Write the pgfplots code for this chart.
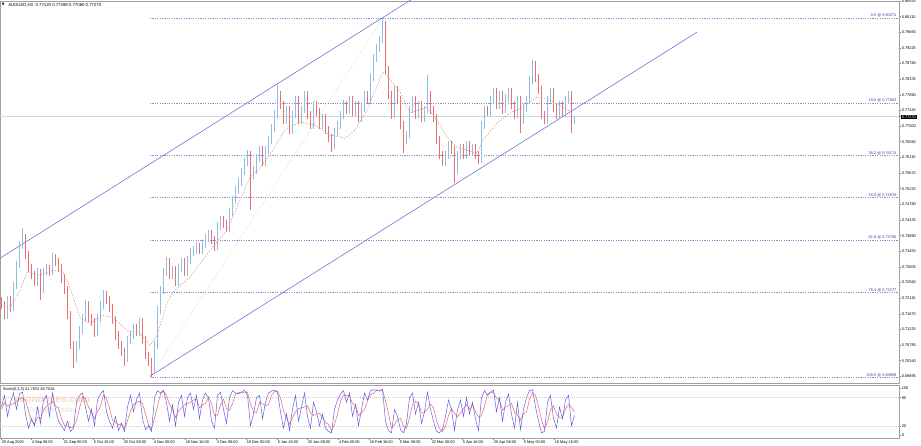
\documentclass[border=0pt]{standalone}
\usepackage{fontspec}
\setmainfont{Liberation Sans}
\newfontfamily\dejavu{DejaVu Sans}
\usepackage{pgfplots}
\pgfplotsset{compat=1.18}
\usepackage{pgfplotstable}
\definecolor{chan}{RGB}{115,115,210}
\definecolor{fibc}{RGB}{140,140,212}
\definecolor{fibt}{RGB}{60,60,165}
\definecolor{mac}{RGB}{205,140,125}
\definecolor{stm}{RGB}{95,95,230}
\definecolor{sts}{RGB}{235,95,105}
\definecolor{frame}{RGB}{160,160,160}
\definecolor{curp}{RGB}{200,214,230}
\definecolor{wmor}{RGB}{248,205,165}
\pgfplotsset{colormap={candle}{rgb255=(238,110,110) rgb255=(145,188,228)}}

\pgfplotstableread{
x o h l c
1.5 0.7206 0.7216 0.7180 0.7192
4.5 0.7192 0.7204 0.7151 0.7163
7.5 0.7163 0.7217 0.7153 0.7206
10.5 0.7206 0.7219 0.7172 0.7183
13.5 0.7183 0.7258 0.7175 0.7248
16.5 0.7248 0.7318 0.7238 0.7305
19.5 0.7305 0.7374 0.7296 0.7362
22.5 0.7362 0.7410 0.7350 0.7382
25.5 0.7382 0.7393 0.7322 0.7334
28.5 0.7334 0.7345 0.7287 0.7297
31.5 0.7297 0.7308 0.7266 0.7277
34.5 0.7277 0.7289 0.7247 0.7257
37.5 0.7257 0.7296 0.7245 0.7285
40.5 0.7285 0.7294 0.7206 0.7234
43.5 0.7234 0.7297 0.7225 0.7285
46.5 0.7285 0.7309 0.7276 0.7297
49.5 0.7297 0.7307 0.7274 0.7285
52.5 0.7285 0.7340 0.7276 0.7325
55.5 0.7325 0.7336 0.7303 0.7314
58.5 0.7314 0.7325 0.7286 0.7297
61.5 0.7297 0.7308 0.7256 0.7268
64.5 0.7268 0.7279 0.7222 0.7234
67.5 0.7234 0.7245 0.7151 0.7163
70.5 0.7163 0.7174 0.7066 0.7078
73.5 0.7078 0.7089 0.7012 0.7041
76.5 0.7041 0.7090 0.7030 0.7078
79.5 0.7078 0.7132 0.7068 0.7120
82.5 0.7120 0.7166 0.7110 0.7155
85.5 0.7155 0.7205 0.7144 0.7192
88.5 0.7192 0.7203 0.7143 0.7155
91.5 0.7155 0.7166 0.7132 0.7143
94.5 0.7143 0.7154 0.7102 0.7115
97.5 0.7115 0.7167 0.7105 0.7155
100.5 0.7155 0.7203 0.7144 0.7192
103.5 0.7192 0.7234 0.7182 0.7220
106.5 0.7220 0.7231 0.7195 0.7206
109.5 0.7206 0.7217 0.7172 0.7183
112.5 0.7183 0.7195 0.7138 0.7149
115.5 0.7149 0.7160 0.7094 0.7106
118.5 0.7106 0.7117 0.7067 0.7078
121.5 0.7078 0.7089 0.7046 0.7058
124.5 0.7058 0.7069 0.7018 0.7041
127.5 0.7041 0.7104 0.7030 0.7092
130.5 0.7092 0.7118 0.7082 0.7106
133.5 0.7106 0.7137 0.7095 0.7126
136.5 0.7126 0.7138 0.7104 0.7115
139.5 0.7115 0.7156 0.7105 0.7143
142.5 0.7143 0.7154 0.7080 0.7092
145.5 0.7092 0.7103 0.7038 0.7049
148.5 0.7049 0.7060 0.7018 0.7030
151.5 0.7030 0.7041 0.6987 0.7012
154.5 0.7012 0.7090 0.7002 0.7078
157.5 0.7078 0.7189 0.7068 0.7177
160.5 0.7177 0.7246 0.7166 0.7234
163.5 0.7234 0.7297 0.7224 0.7285
166.5 0.7285 0.7328 0.7275 0.7314
169.5 0.7314 0.7325 0.7266 0.7277
172.5 0.7277 0.7302 0.7267 0.7291
175.5 0.7291 0.7303 0.7246 0.7257
178.5 0.7257 0.7309 0.7247 0.7297
181.5 0.7297 0.7326 0.7286 0.7314
184.5 0.7314 0.7325 0.7274 0.7285
187.5 0.7285 0.7331 0.7275 0.7319
190.5 0.7319 0.7353 0.7308 0.7342
193.5 0.7342 0.7360 0.7331 0.7348
196.5 0.7348 0.7371 0.7338 0.7359
199.5 0.7359 0.7369 0.7337 0.7348
202.5 0.7348 0.7377 0.7337 0.7365
205.5 0.7365 0.7394 0.7354 0.7382
208.5 0.7382 0.7405 0.7372 0.7393
211.5 0.7393 0.7404 0.7365 0.7376
214.5 0.7376 0.7387 0.7345 0.7359
217.5 0.7359 0.7428 0.7349 0.7416
220.5 0.7416 0.7446 0.7405 0.7433
223.5 0.7433 0.7444 0.7410 0.7422
226.5 0.7422 0.7433 0.7399 0.7410
229.5 0.7410 0.7468 0.7400 0.7456
232.5 0.7456 0.7502 0.7446 0.7490
235.5 0.7490 0.7530 0.7479 0.7518
238.5 0.7518 0.7553 0.7508 0.7541
241.5 0.7541 0.7582 0.7531 0.7570
244.5 0.7570 0.7610 0.7560 0.7598
247.5 0.7598 0.7632 0.7588 0.7618
250.5 0.7618 0.7629 0.7462 0.7561
253.5 0.7561 0.7587 0.7550 0.7575
256.5 0.7575 0.7621 0.7565 0.7609
259.5 0.7609 0.7645 0.7598 0.7632
262.5 0.7632 0.7643 0.7587 0.7598
265.5 0.7598 0.7644 0.7588 0.7632
268.5 0.7632 0.7672 0.7622 0.7660
271.5 0.7660 0.7707 0.7650 0.7695
274.5 0.7695 0.7745 0.7684 0.7732
277.5 0.7732 0.7817 0.7722 0.7788
280.5 0.7788 0.7800 0.7748 0.7760
283.5 0.7760 0.7771 0.7705 0.7717
286.5 0.7717 0.7758 0.7706 0.7746
289.5 0.7746 0.7757 0.7677 0.7689
292.5 0.7689 0.7744 0.7679 0.7732
295.5 0.7732 0.7787 0.7722 0.7774
298.5 0.7774 0.7785 0.7705 0.7717
301.5 0.7717 0.7758 0.7706 0.7746
304.5 0.7746 0.7800 0.7736 0.7788
307.5 0.7788 0.7799 0.7720 0.7732
310.5 0.7732 0.7743 0.7691 0.7703
313.5 0.7703 0.7772 0.7693 0.7760
316.5 0.7760 0.7771 0.7729 0.7740
319.5 0.7740 0.7751 0.7691 0.7703
322.5 0.7703 0.7735 0.7693 0.7723
325.5 0.7723 0.7734 0.7677 0.7689
328.5 0.7689 0.7700 0.7655 0.7666
331.5 0.7666 0.7677 0.7626 0.7646
334.5 0.7646 0.7695 0.7636 0.7683
337.5 0.7683 0.7715 0.7672 0.7703
340.5 0.7703 0.7744 0.7693 0.7732
343.5 0.7732 0.7773 0.7721 0.7760
346.5 0.7760 0.7771 0.7735 0.7746
349.5 0.7746 0.7786 0.7736 0.7774
352.5 0.7774 0.7785 0.7728 0.7740
355.5 0.7740 0.7772 0.7730 0.7760
358.5 0.7760 0.7771 0.7711 0.7723
361.5 0.7723 0.7763 0.7713 0.7751
364.5 0.7751 0.7800 0.7741 0.7788
367.5 0.7788 0.7799 0.7763 0.7774
370.5 0.7774 0.7849 0.7764 0.7837
373.5 0.7837 0.7906 0.7827 0.7894
376.5 0.7894 0.7934 0.7883 0.7922
379.5 0.7922 0.7957 0.7911 0.7945
382.5 0.7945 0.8007 0.7935 0.7987
385.5 0.7987 0.7998 0.7847 0.7859
388.5 0.7859 0.7870 0.7776 0.7788
391.5 0.7788 0.7799 0.7720 0.7732
394.5 0.7732 0.7815 0.7722 0.7803
397.5 0.7803 0.7814 0.7763 0.7774
400.5 0.7774 0.7785 0.7691 0.7703
403.5 0.7703 0.7714 0.7623 0.7660
406.5 0.7660 0.7687 0.7650 0.7675
409.5 0.7675 0.7758 0.7665 0.7746
412.5 0.7746 0.7786 0.7736 0.7774
415.5 0.7774 0.7785 0.7720 0.7732
418.5 0.7732 0.7772 0.7722 0.7760
421.5 0.7760 0.7771 0.7711 0.7723
424.5 0.7723 0.7758 0.7713 0.7746
427.5 0.7746 0.7845 0.7736 0.7788
430.5 0.7788 0.7799 0.7734 0.7746
433.5 0.7746 0.7757 0.7711 0.7723
436.5 0.7723 0.7734 0.7648 0.7660
439.5 0.7660 0.7671 0.7606 0.7618
442.5 0.7618 0.7629 0.7586 0.7598
445.5 0.7598 0.7630 0.7588 0.7618
448.5 0.7618 0.7658 0.7608 0.7646
451.5 0.7646 0.7657 0.7621 0.7632
454.5 0.7632 0.7643 0.7538 0.7575
457.5 0.7575 0.7630 0.7565 0.7618
460.5 0.7618 0.7650 0.7608 0.7638
463.5 0.7638 0.7649 0.7607 0.7618
466.5 0.7618 0.7658 0.7608 0.7646
469.5 0.7646 0.7657 0.7615 0.7626
472.5 0.7626 0.7650 0.7616 0.7638
475.5 0.7638 0.7649 0.7606 0.7618
478.5 0.7618 0.7629 0.7592 0.7604
481.5 0.7604 0.7715 0.7594 0.7703
484.5 0.7703 0.7758 0.7693 0.7746
487.5 0.7746 0.7757 0.7729 0.7740
490.5 0.7740 0.7786 0.7730 0.7774
493.5 0.7774 0.7809 0.7764 0.7797
496.5 0.7797 0.7808 0.7748 0.7760
499.5 0.7760 0.7800 0.7750 0.7788
502.5 0.7788 0.7799 0.7734 0.7746
505.5 0.7746 0.7792 0.7736 0.7780
508.5 0.7780 0.7809 0.7770 0.7797
511.5 0.7797 0.7808 0.7748 0.7760
514.5 0.7760 0.7771 0.7720 0.7732
517.5 0.7732 0.7786 0.7722 0.7774
520.5 0.7774 0.7785 0.7680 0.7717
523.5 0.7717 0.7763 0.7707 0.7751
526.5 0.7751 0.7786 0.7741 0.7774
529.5 0.7774 0.7843 0.7764 0.7831
532.5 0.7831 0.7888 0.7821 0.7874
535.5 0.7874 0.7885 0.7825 0.7837
538.5 0.7837 0.7848 0.7791 0.7803
541.5 0.7803 0.7814 0.7720 0.7732
544.5 0.7732 0.7743 0.7705 0.7717
547.5 0.7717 0.7786 0.7707 0.7774
550.5 0.7774 0.7808 0.7764 0.7797
553.5 0.7797 0.7808 0.7739 0.7751
556.5 0.7751 0.7762 0.7720 0.7732
559.5 0.7732 0.7772 0.7722 0.7760
562.5 0.7760 0.7771 0.7729 0.7740
565.5 0.7740 0.7786 0.7730 0.7774
568.5 0.7774 0.7800 0.7764 0.7788
571.5 0.7788 0.7799 0.7682 0.7712
574.5 0.7712 0.7729 0.7706 0.7727
}\candles

\pgfplotstableread{
x m s
1.5 60 55
4.5 85 70
7.5 40 62
10.5 70 65
13.5 90 67
16.5 55 72
19.5 88 78
22.5 92 78
25.5 45 75
28.5 15 51
31.5 35 32
34.5 20 23
37.5 60 38
40.5 25 35
43.5 75 53
46.5 85 62
49.5 40 67
52.5 90 72
55.5 55 62
58.5 30 58
61.5 20 35
64.5 10 20
67.5 30 20
70.5 8 16
73.5 15 18
76.5 70 31
79.5 85 57
82.5 90 82
85.5 60 78
88.5 30 60
91.5 55 48
94.5 20 35
97.5 75 50
100.5 88 61
103.5 95 86
106.5 50 78
109.5 30 58
112.5 15 32
115.5 40 28
118.5 10 22
121.5 25 25
124.5 8 14
127.5 60 31
130.5 85 51
133.5 50 65
136.5 75 70
139.5 90 72
142.5 35 67
145.5 12 46
148.5 20 22
151.5 8 13
154.5 80 36
157.5 95 61
160.5 90 88
163.5 96 94
166.5 70 85
169.5 30 65
172.5 65 55
175.5 20 38
178.5 70 52
181.5 85 58
184.5 40 65
187.5 80 68
190.5 90 70
193.5 55 75
196.5 85 77
199.5 35 58
202.5 75 65
205.5 90 67
208.5 80 82
211.5 30 67
214.5 15 42
217.5 85 43
220.5 92 64
223.5 55 77
226.5 25 57
229.5 80 53
232.5 95 67
235.5 90 88
238.5 88 91
241.5 92 90
244.5 96 92
247.5 85 91
250.5 20 67
253.5 45 50
256.5 80 48
259.5 85 70
262.5 35 67
265.5 70 63
268.5 90 65
271.5 94 85
274.5 96 93
277.5 92 94
280.5 50 79
283.5 15 52
286.5 45 37
289.5 10 23
292.5 55 37
295.5 85 50
298.5 30 57
301.5 60 58
304.5 90 60
307.5 40 63
310.5 15 48
313.5 70 42
316.5 50 45
319.5 20 47
322.5 45 38
325.5 15 27
328.5 8 23
331.5 5 9
334.5 55 23
337.5 75 45
340.5 88 73
343.5 95 86
346.5 70 84
349.5 90 85
352.5 40 67
355.5 65 65
358.5 20 42
361.5 55 47
364.5 90 55
367.5 75 73
370.5 95 87
373.5 97 89
376.5 96 96
379.5 94 96
382.5 98 96
385.5 30 74
388.5 10 46
391.5 5 15
394.5 55 23
397.5 40 33
400.5 12 36
403.5 5 19
406.5 25 14
409.5 80 37
412.5 90 65
415.5 45 72
418.5 70 68
421.5 25 47
424.5 50 48
427.5 92 56
430.5 55 66
433.5 30 59
436.5 8 31
439.5 5 14
442.5 12 8
445.5 40 19
448.5 75 42
451.5 55 57
454.5 10 47
457.5 55 40
460.5 75 47
463.5 40 57
466.5 80 65
469.5 45 55
472.5 70 65
475.5 35 50
478.5 10 38
481.5 80 42
484.5 95 62
487.5 85 87
490.5 92 91
493.5 96 91
496.5 50 79
499.5 80 75
502.5 30 53
505.5 70 60
508.5 88 63
511.5 45 68
514.5 15 49
517.5 70 43
520.5 12 32
523.5 55 46
526.5 80 49
529.5 95 77
532.5 97 91
535.5 60 84
538.5 30 62
541.5 5 32
544.5 8 14
547.5 70 28
550.5 85 54
553.5 35 63
556.5 15 45
559.5 60 37
562.5 35 37
565.5 75 57
568.5 85 65
571.5 20 60
574.5 42 49
}\stoch

\begin{document}
\begin{tikzpicture}[font=\fontsize{4}{4.5}\selectfont]
\useasboundingbox (0,0) rectangle (921pt,446pt);
\begin{axis}[
  at={(0pt,63pt)}, anchor=south west, scale only axis,
  width=899pt, height=382pt,
  xmin=0, xmax=899, ymin=0.69706, ymax=0.80555,
  axis line style={draw=frame, line width=0.8pt},
  xtick=\empty,
  ytick pos=right, yticklabel pos=right,
  tick align=outside, major tick length=2pt,
  tick style={draw=gray, line width=0.4pt},
  ytick={0.80555,0.80110,0.79665,0.79225,0.78780,0.78335,0.77890,0.77445,0.77000,0.76560,0.76115,0.75670,0.75225,0.74780,0.74335,0.73890,0.73450,0.73005,0.72560,0.72115,0.71670,0.71225,0.70785,0.70340,0.69895},
  yticklabels={0.80555,0.80110,0.79665,0.79225,0.78780,0.78335,0.77890,0.77445,0.77000,0.76560,0.76115,0.75670,0.75225,0.74780,0.74335,0.73890,0.73450,0.73005,0.72560,0.72115,0.71670,0.71225,0.70785,0.70340,0.69895},
  yticklabel style={font=\fontsize{3.9}{4}\selectfont, inner sep=0.6pt, anchor=west},
  extra y ticks={0.7727}, extra y tick labels={0.77270},
  extra y tick style={yticklabel style={fill=black, text=white, inner sep=0.6pt}},
  colormap name=candle, point meta min=0, point meta max=1,
]
% current price line
\addplot[curp, line width=0.5pt] coordinates {(0,0.7727) (899,0.7727)};
% fibonacci levels
\addplot[fibc, line width=0.4pt, dash pattern=on 1.2pt off 1.2pt] coordinates {(150,0.80071) (899,0.80071)};
\addplot[fibc, line width=0.4pt, dash pattern=on 1.2pt off 1.2pt] coordinates {(150,0.77663) (899,0.77663)};
\addplot[fibc, line width=0.4pt, dash pattern=on 1.2pt off 1.2pt] coordinates {(150,0.76174) (899,0.76174)};
\addplot[fibc, line width=0.4pt, dash pattern=on 1.2pt off 1.2pt] coordinates {(150,0.74970) (899,0.74970)};
\addplot[fibc, line width=0.4pt, dash pattern=on 1.2pt off 1.2pt] coordinates {(150,0.73766) (899,0.73766)};
\addplot[fibc, line width=0.4pt, dash pattern=on 1.2pt off 1.2pt] coordinates {(150,0.72277) (899,0.72277)};
\addplot[fibc, line width=0.4pt, dash pattern=on 1.2pt off 1.2pt] coordinates {(150,0.69869) (899,0.69869)};
% fib base line
\addplot[gray!35, line width=0.4pt, dash pattern=on 1pt off 1pt] coordinates {(150,0.69869) (383,0.80071)};
% channel
\addplot[chan, line width=0.6pt] coordinates {(0,0.7325) (415,0.8066)};
\addplot[chan, line width=0.6pt] coordinates {(150,0.6990) (697,0.7967)};
% candles: wicks and bodies
\addplot[quiver={u=0, v=\thisrow{h}-\thisrow{l}, colored, every arrow/.append style={line width=0.5pt}},
  point meta={\thisrow{c}>\thisrow{o}}] table[x=x, y=l] {\candles};
\addplot[quiver={u=0, v=\thisrow{c}-\thisrow{o}, colored, every arrow/.append style={line width=1.5pt}},
  point meta={\thisrow{c}>\thisrow{o}}] table[x=x, y=o] {\candles};
% moving average
\addplot[mac, line width=0.5pt, dash pattern=on 1.5pt off 1.5pt] coordinates {
(1,0.7192) (10,0.7183) (20,0.7234) (27,0.7285) (40,0.7277) (53,0.7291) (63,0.7285)
(70,0.7243) (80,0.7155) (90,0.7140) (103,0.7163) (113,0.7157) (127,0.7120) (140,0.7112)
(150,0.7078) (157,0.7106) (167,0.7197) (173,0.7229) (190,0.7271) (210,0.7348) (227,0.7405)
(240,0.7490) (250,0.7555) (260,0.7581) (273,0.7632) (285,0.7689) (300,0.7712) (315,0.7703)
(330,0.7675) (345,0.7666) (355,0.7689) (367,0.7746) (383,0.7854) (393,0.7823) (400,0.7797)
(410,0.7737) (427,0.7754) (437,0.7717) (447,0.7669) (457,0.7640) (477,0.7623) (483,0.7660)
(497,0.7709) (510,0.7737) (523,0.7754) (537,0.7783) (550,0.7774) (563,0.7754) (573,0.7737)};
% fib labels
\begin{scope}[every node/.style={anchor=south east, text=fibt, inner sep=0.4pt, font=\fontsize{3.9}{4}\selectfont}]
\node at (axis cs:897,0.80071) {0.0 @ 0.80071};
\node at (axis cs:897,0.77663) {23.6 @ 0.77663};
\node at (axis cs:897,0.76174) {38.2 @ 0.76174};
\node at (axis cs:897,0.74970) {50.0 @ 0.74970};
\node at (axis cs:897,0.73766) {61.8 @ 0.73766};
\node at (axis cs:897,0.72277) {76.4 @ 0.72277};
\node at (axis cs:897,0.69869) {100.0 @ 0.69869};
\end{scope}
\node[anchor=west, inner sep=0pt, font=\fontsize{3.5}{4}\dejavu] at (rel axis cs:0.002,0.9895) {▼};
\node[anchor=west, inner sep=0pt, font=\fontsize{4.3}{5}\selectfont] at (rel axis cs:0.009,0.9895) {AUDUSD,H4\ \ 0.77120 0.77289 0.77060 0.77270};
\end{axis}

\begin{axis}[
  at={(0pt,8pt)}, anchor=south west, scale only axis,
  width=899pt, height=52.5pt,
  xmin=0, xmax=899, ymin=-6, ymax=106,
  axis line style={draw=frame, line width=0.8pt},
  ytick pos=right, yticklabel pos=right, xtick pos=bottom,
  tick align=outside, major tick length=2pt,
  tick style={draw=gray, line width=0.4pt},
  ytick={0,20,80,100}, yticklabels={0,20,80,100},
  yticklabel style={font=\fontsize{3.9}{4}\selectfont, inner sep=0.6pt, anchor=west},
  xtick={1,31,63,93,123,153,185,216,246,277,307,338,369,399,431,462,493,523,554},
  xticklabels={20 Aug 2020,4 Sep 08:00,21 Sep 00:00,5 Oct 16:00,20 Oct 08:00,4 Nov 00:00,18 Nov 16:00,3 Dec 08:00,18 Dec 00:00,5 Jan 16:00,20 Jan 08:00,4 Feb 00:00,18 Feb 16:00,5 Mar 08:00,22 Mar 00:00,5 Apr 16:00,20 Apr 08:00,5 May 00:00,19 May 16:00},
  xticklabel style={font=\fontsize{3.9}{4}\selectfont, anchor=north west, inner sep=0.6pt},
]
\addplot[gray!45, line width=0.4pt, dash pattern=on 1pt off 1pt] coordinates {(0,80) (899,80)};
\addplot[gray!45, line width=0.4pt, dash pattern=on 1pt off 1pt] coordinates {(0,20) (899,20)};
\node[font=\fontsize{10}{11}\selectfont\bfseries, text=wmor, opacity=0.8] at (rel axis cs:0.058,0.74) {economies.com};
\node[font=\fontsize{7.5}{8}\selectfont, text=gray!30, opacity=0.8] at (rel axis cs:0.058,0.52) {FxNews Today};
\addplot[sts, line width=0.5pt] table[x=x, y=s] {\stoch};
\addplot[stm, line width=0.5pt] table[x=x, y=m] {\stoch};
\node[anchor=west, inner sep=0pt, font=\fontsize{3.9}{4}\selectfont] at (rel axis cs:0.003,0.93) {Stoch(5,3,3) 41.7831 48.7016};
\end{axis}
\end{tikzpicture}
\end{document}
